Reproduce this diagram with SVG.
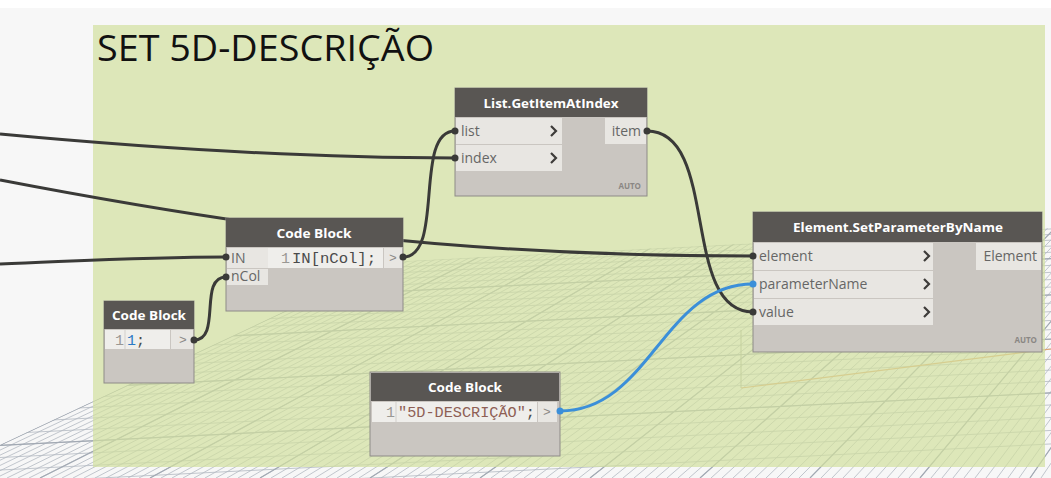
<svg xmlns="http://www.w3.org/2000/svg" width="1051" height="478" viewBox="0 0 1051 478">
<style>
.hdr{fill:#595653}
.body{fill:#cac6c1;stroke:#8e8b87;stroke-width:1}
.port{fill:#e8e6e2}
.code{fill:#efeeeb}
.ttl{font-family:"Open Sans","Liberation Sans",sans-serif;font-weight:bold;font-size:13px;fill:#ffffff;text-anchor:middle}
.lbl{font-family:"Open Sans","Liberation Sans",sans-serif;font-size:14px;fill:#666}
.auto{font-family:"Open Sans","Liberation Sans",sans-serif;font-weight:bold;font-size:8px;fill:#8a8784;text-anchor:end}
.mono{font-family:"Liberation Mono","DejaVu Sans Mono",monospace;font-size:15px}
.ln{fill:#9a9894;text-anchor:end}
.out{font-family:"Liberation Mono","DejaVu Sans Mono",monospace;font-size:13px;fill:#8c8a87;text-anchor:middle}
.chev{fill:none;stroke:#3e3c3a;stroke-width:2.2;stroke-linejoin:miter}
.wire{fill:none;stroke:#3a3a38;stroke-width:3}
.blue{fill:none;stroke:#3b8fd9;stroke-width:3}
.dot{fill:#3a3a38}
.sep{stroke:#d2cfcb;stroke-width:1}
.g1{stroke:#b3b9c2;stroke-width:0.8}
</style>
<defs>
<clipPath id="plane"><path d="M390 262 L1051 228 L1051 478 L0 478 L0 445 Z"/></clipPath>
</defs>
<rect width="1051" height="478" fill="#ffffff"/>
<rect x="0" y="8" width="1051" height="470" fill="#f7f7f7"/>
<g id="grid" clip-path="url(#plane)" fill="none">
<path class="g1" d="M0 281.5 L1051 228.95 M0 287 L1051 234.45 M0 292.7 L1051 240.15 M0 298.6 L1051 246.05 M0 304.8 L1051 252.25 M0 311.2 L1051 258.65 M0 317.9 L1051 265.35 M0 324.9 L1051 272.35 M0 332.1 L1051 279.55 M0 339.6 L1051 287.05 M0 347.5 L1051 294.95 M0 355.7 L1051 303.15 M0 364.2 L1051 311.65 M0 373 L1051 320.45 M0 382.2 L1051 329.65 M0 391.7 L1051 339.15 M0 401.6 L1051 349.05 M0 411.9 L1051 359.35 M0 422.6 L1051 370.05 M0 433.8 L1051 381.25 M0 445.4 L1051 392.85 M0 457.5 L1051 404.95 M0 470 L1051 417.45 M0 483 L1051 430.45 M0 496.5 L1051 443.95"/>
<path class="g1" d="M1560 -287 L-70 478 M1560 -287 L-48 478 M1560 -287 L-26 478 M1560 -287 L-4 478 M1560 -287 L18 478 M1560 -287 L40 478 M1560 -287 L62 478 M1560 -287 L84 478 M1560 -287 L106 478 M1560 -287 L128 478 M1560 -287 L150 478 M1560 -287 L172 478 M1560 -287 L194 478 M1560 -287 L216 478 M1560 -287 L238 478 M1560 -287 L260 478 M1560 -287 L282 478 M1560 -287 L304 478 M1560 -287 L326 478 M1560 -287 L348 478 M1560 -287 L370 478 M1560 -287 L392 478 M1560 -287 L414 478 M1560 -287 L436 478 M1560 -287 L458 478 M1560 -287 L480 478 M1560 -287 L502 478 M1560 -287 L524 478 M1560 -287 L546 478 M1560 -287 L568 478 M1560 -287 L590 478 M1560 -287 L612 478 M1560 -287 L634 478 M1560 -287 L656 478 M1560 -287 L678 478 M1560 -287 L700 478 M1560 -287 L722 478 M1560 -287 L744 478 M1560 -287 L766 478 M1560 -287 L788 478 M1560 -287 L810 478 M1560 -287 L832 478 M1560 -287 L854 478 M1560 -287 L876 478 M1560 -287 L898 478 M1560 -287 L920 478 M1560 -287 L942 478 M1560 -287 L964 478 M1560 -287 L986 478 M1560 -287 L1008 478 M1560 -287 L1030 478 M1560 -287 L1052 478"/>
<path class="g1" d="M1560 -287 L-59 478 M1560 -287 L-37 478 M1560 -287 L-15 478 M1560 -287 L7 478 M1560 -287 L29 478 M1560 -287 L51 478 M1560 -287 L73 478 M1560 -287 L95 478 M1560 -287 L117 478 M1560 -287 L139 478 M1560 -287 L161 478 M1560 -287 L183 478 M1560 -287 L205 478 M1560 -287 L227 478 M1560 -287 L249 478 M1560 -287 L271 478 M1560 -287 L293 478 M1560 -287 L315 478 M1560 -287 L337 478 M1560 -287 L359 478 M1560 -287 L381 478 M1560 -287 L403 478 M1560 -287 L425 478 M1560 -287 L447 478 M1560 -287 L469 478 M1560 -287 L491 478 M1560 -287 L513 478 M1560 -287 L535 478 M1560 -287 L557 478 M1560 -287 L579 478 M1560 -287 L601 478 M1560 -287 L623 478 M1560 -287 L645 478 M1560 -287 L667 478 M1560 -287 L689 478 M1560 -287 L711 478 M1560 -287 L733 478 M1560 -287 L755 478 M1560 -287 L777 478 M1560 -287 L799 478 M1560 -287 L821 478 M1560 -287 L843 478 M1560 -287 L865 478 M1560 -287 L887 478 M1560 -287 L909 478 M1560 -287 L931 478 M1560 -287 L953 478 M1560 -287 L975 478 M1560 -287 L997 478 M1560 -287 L1019 478 M1560 -287 L1041 478"/>
<path stroke="#a2a9b3" stroke-width="1.2" d="M0 311.2 L1051 258.65 M0 347.5 L1051 294.95 M0 391.7 L1051 339.15 M0 445.4 L1051 392.85 M1560 -287 L-70 478 M1560 -287 L40 478 M1560 -287 L150 478 M1560 -287 L260 478 M1560 -287 L370 478 M1560 -287 L480 478 M1560 -287 L590 478 M1560 -287 L700 478 M1560 -287 L810 478 M1560 -287 L920 478 M1560 -287 L1030 478"/>
</g>
<line x1="741" y1="330" x2="741" y2="388" stroke="#a7ad9e" stroke-width="1"/>
<line x1="741" y1="388" x2="1051" y2="349" stroke="#e0a46e" stroke-width="1.2"/>
<g id="group-set-5d">
<rect x="93" y="25" width="952" height="442" fill="#d2df9e" fill-opacity="0.7"/>
<text x="97" y="61" font-family="Open Sans, Liberation Sans, sans-serif" font-size="36" fill="#111111" textLength="337" lengthAdjust="spacingAndGlyphs">SET 5D-DESCRIÇÃO</text>
</g>
<g id="connectors">
<path class="wire" d="M0 134 C150 148 300 158 455 158"/>
<path class="wire" d="M0 180 C250 228 450 256 753 256"/>
<path class="wire" d="M0 264 C100 260 150 257 226 257"/>
<path class="wire" d="M194 340 C222 340 198 277 226 277"/>
<path class="wire" d="M403 257 C445 257 413 131 455 131"/>
<path class="wire" d="M647 131 C720 131 680 312 753 312"/>
<path class="blue" d="M560 411 C650 411 663 284 753 284"/>
</g>
<g id="node-getitem">
<rect class="body" x="455" y="88" width="192" height="108"/>
<rect class="hdr" x="455" y="88" width="192" height="29"/>
<text class="ttl" x="551" y="108" textLength="135" lengthAdjust="spacingAndGlyphs">List.GetItemAtIndex</text>
<rect class="port" x="456" y="118" width="106" height="26"/>
<rect class="port" x="456" y="145" width="106" height="26"/>
<text class="lbl" x="461" y="136">list</text>
<text class="lbl" x="461" y="163">index</text>
<path class="chev" d="M551 126 L556 131 L551 136 M551 153 L556 158 L551 163"/>
<rect class="port" x="605" y="118" width="41" height="26"/>
<text class="lbl" x="641" y="136" text-anchor="end">item</text>
<text class="auto" x="641" y="189">AUTO</text>
<circle class="dot" cx="455" cy="131" r="3.5"/>
<circle class="dot" cx="455" cy="158" r="3.5"/>
<circle class="dot" cx="647" cy="131" r="3.5"/>
</g>
<g id="node-codeblock-index">
<rect class="body" x="226" y="218" width="177" height="93"/>
<rect class="hdr" x="226" y="218" width="177" height="29"/>
<text class="ttl" x="314" y="238" textLength="75" lengthAdjust="spacingAndGlyphs">Code Block</text>
<rect class="port" x="227" y="248" width="41" height="20"/>
<rect class="port" x="227" y="269" width="41" height="16"/>
<text class="lbl" x="231" y="263" font-size="13">IN</text>
<text class="lbl" x="231" y="281" font-size="13">nCol</text>
<rect class="code" x="268" y="248" width="115" height="20"/>
<text class="mono ln" x="290" y="263">1</text>
<text class="mono" x="292" y="263" fill="#4a4a4a" textLength="84" lengthAdjust="spacingAndGlyphs">IN[nCol];</text>
<rect class="port" x="384" y="248" width="18" height="20"/>
<text class="out" x="393" y="262">&gt;</text>
<circle class="dot" cx="226" cy="257" r="3.5"/>
<circle class="dot" cx="226" cy="277" r="3.5"/>
<circle class="dot" cx="403" cy="257" r="3.5"/>
</g>
<g id="node-codeblock-one">
<rect class="body" x="104" y="301" width="90" height="82"/>
<rect class="hdr" x="104" y="301" width="90" height="28"/>
<text class="ttl" x="149" y="320" textLength="74" lengthAdjust="spacingAndGlyphs">Code Block</text>
<rect class="code" x="105" y="330" width="65" height="19"/>
<line x1="125" y1="330" x2="125" y2="349" class="sep"/>
<text class="mono ln" x="124" y="345">1</text>
<text class="mono" x="127" y="345"><tspan fill="#2c7ac4">1</tspan><tspan fill="#4a4a4a">;</tspan></text>
<rect class="port" x="171" y="330" width="22" height="19"/>
<text class="out" x="183" y="344">&gt;</text>
<circle class="dot" cx="194" cy="340" r="3.5"/>
</g>
<g id="node-setparameter">
<rect class="body" x="753" y="212" width="289" height="140"/>
<rect class="hdr" x="753" y="212" width="289" height="30"/>
<text class="ttl" x="898" y="232" textLength="210" lengthAdjust="spacingAndGlyphs">Element.SetParameterByName</text>
<rect class="port" x="754" y="243" width="179" height="27"/>
<rect class="port" x="754" y="271" width="179" height="27"/>
<rect class="port" x="754" y="299" width="179" height="26"/>
<text class="lbl" x="759" y="261">element</text>
<text class="lbl" x="759" y="289">parameterName</text>
<text class="lbl" x="759" y="317">value</text>
<path class="chev" d="M924 251 L929 256 L924 261 M924 279 L929 284 L924 289 M924 307 L929 312 L924 317"/>
<rect class="port" x="976" y="243" width="65" height="27"/>
<text class="lbl" x="1037" y="261" text-anchor="end">Element</text>
<text class="auto" x="1037" y="343">AUTO</text>
<circle class="dot" cx="753" cy="256" r="3.5"/>
<circle cx="753" cy="284" r="3.5" fill="#3b8fd9"/>
<circle class="dot" cx="753" cy="312" r="3.5"/>
</g>
<g id="node-codeblock-string">
<rect class="body" x="370" y="372" width="190" height="84" stroke="#3a8ad6" stroke-width="2.5"/>
<rect class="hdr" x="371" y="373" width="188" height="28"/>
<text class="ttl" x="465" y="392" textLength="74" lengthAdjust="spacingAndGlyphs">Code Block</text>
<rect class="code" x="372" y="402" width="165" height="20"/>
<line x1="396" y1="402" x2="396" y2="422" class="sep"/>
<text class="mono ln" x="395" y="417">1</text>
<text class="mono" x="398" y="417" textLength="137" lengthAdjust="spacingAndGlyphs"><tspan fill="#8e5f55">"5D-DESCRIÇÃO"</tspan><tspan fill="#4a4a4a">;</tspan></text>
<rect class="port" x="538" y="402" width="19" height="20"/>
<text class="out" x="547" y="416">&gt;</text>
<circle cx="560" cy="411" r="3.5" fill="#3b8fd9"/>
</g>
</svg>
